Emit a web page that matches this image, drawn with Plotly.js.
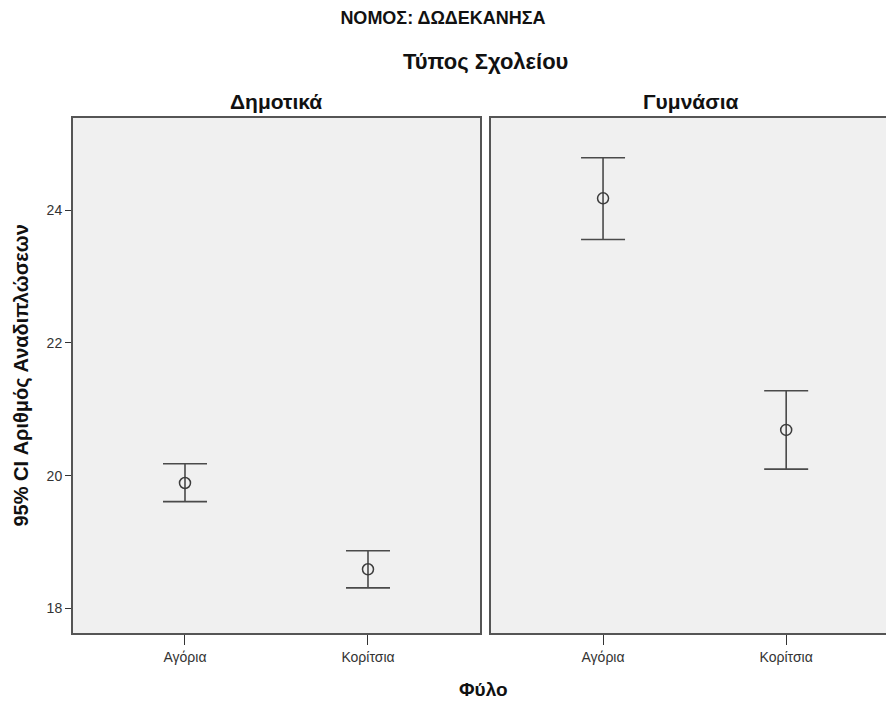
<!DOCTYPE html>
<html>
<head>
<meta charset="utf-8">
<script src="https://cdn.plot.ly/plotly-3.0.1.min.js"></script>
<style>html,body{margin:0;padding:0;background:#fff;}</style>
</head>
<body>
<div id="chart" style="width:886px;height:702px;"></div>
<script>
const categories = ['Αγόρια', 'Κορίτσια'];
const panelNames = ['Δημοτικά', 'Γυμνάσια'];
// Δημοτικά
const primMean  = [19.89, 18.59];
const primLower = [19.61, 18.31];
const primUpper = [20.18, 18.87];
// Γυμνάσια
const secMean  = [24.18, 20.69];
const secLower = [23.56, 20.10];
const secUpper = [24.79, 21.28];
const yTicks = [18, 20, 22, 24];

const FONT = 'Liberation Sans, Arial, sans-serif';
const DARK = '#3c3c3c';

function trace(mean, lower, upper, xa, ya) {
  return {
    type: 'scatter', mode: 'markers',
    x: categories, y: mean, xaxis: xa, yaxis: ya,
    marker: {symbol: 'circle-open', size: 11, color: DARK, line: {width: 1.5, color: DARK}},
    error_y: {
      type: 'data', symmetric: false,
      array: upper.map((u, i) => u - mean[i]),
      arrayminus: lower.map((l, i) => mean[i] - l),
      color: '#4a4a4a', thickness: 1.6, width: 22
    },
    hoverinfo: 'skip', showlegend: false
  };
}

const data = [
  trace(primMean, primLower, primUpper, 'x', 'y'),
  trace(secMean, secLower, secUpper, 'x2', 'y2')
];

const xCommon = {
  type: 'category', range: [-0.612, 1.612],
  showline: true, mirror: true, linecolor: '#555', linewidth: 2,
  ticks: 'outside', ticklen: 10, tickwidth: 1, tickcolor: '#333',
  showgrid: false, zeroline: false,
  tickfont: {family: FONT, size: 14, color: '#333'}
};
const yRange = [17.63, 25.39];

const layout = {
  width: 886, height: 702,
  margin: {l: 73, r: 0, t: 117.5, b: 68.5},
  paper_bgcolor: '#ffffff', plot_bgcolor: '#f0f0f0',
  font: {family: FONT, color: '#111'},
  showlegend: false,
  xaxis: Object.assign({}, xCommon, {domain: [0, 0.5006], anchor: 'y'}),
  xaxis2: Object.assign({}, xCommon, {domain: [0.5141, 1], anchor: 'y2', range: [-0.612, 1.545]}),
  yaxis: {
    range: yRange, tickvals: yTicks, ticktext: yTicks.map(String),
    showline: true, mirror: true, linecolor: '#555', linewidth: 2,
    ticks: 'outside', ticklen: 6, tickwidth: 1, tickcolor: '#333',
    showgrid: false, zeroline: false, anchor: 'x',
    tickfont: {family: FONT, size: 14, color: '#333'}
  },
  yaxis2: {
    range: yRange, showticklabels: false, ticks: '',
    showline: true, mirror: false, linecolor: '#555', linewidth: 2,
    showgrid: false, zeroline: false, anchor: 'x2'
  },
  title: {
    text: '<b>ΝΟΜΟΣ: ΔΩΔΕΚΑΝΗΣΑ</b>',
    x: 0.5, xanchor: 'center', xref: 'container', y: 1 - 18/702, yanchor: 'middle', yref: 'container',
    font: {family: FONT, size: 18, color: '#111'}
  },
  annotations: [
    {text: '<b>Τύπος Σχολείου</b>', xref: 'paper', yref: 'paper', x: 0.5068, y: (633.5-61)/516,
     xanchor: 'center', yanchor: 'middle', showarrow: false, font: {family: FONT, size: 22, color: '#111'}},
    {text: '<b>' + panelNames[0] + '</b>', xref: 'paper', yref: 'paper', x: 0.2503, y: (633.5-101)/516,
     xanchor: 'center', yanchor: 'middle', showarrow: false, font: {family: FONT, size: 21, color: '#111'}},
    {text: '<b>' + panelNames[1] + '</b>', xref: 'paper', yref: 'paper', x: 0.760, y: (633.5-101)/516,
     xanchor: 'center', yanchor: 'middle', showarrow: false, font: {family: FONT, size: 21, color: '#111'}},
    {text: '<b>Φύλο</b>', xref: 'paper', yref: 'paper', x: 0.5055, y: (633.5-690)/516,
     xanchor: 'center', yanchor: 'middle', showarrow: false, font: {family: FONT, size: 19, color: '#111'}},
    {text: '<b>95% CI Αριθμός Αναδιπλώσεων</b>', xref: 'paper', yref: 'paper', x: (20-73)/813, y: 0.5,
     xanchor: 'center', yanchor: 'middle', textangle: -90, showarrow: false, font: {family: FONT, size: 20, color: '#111'}}
  ]
};

Plotly.newPlot('chart', data, layout, {displayModeBar: false, staticPlot: true});
</script>
</body>
</html>
